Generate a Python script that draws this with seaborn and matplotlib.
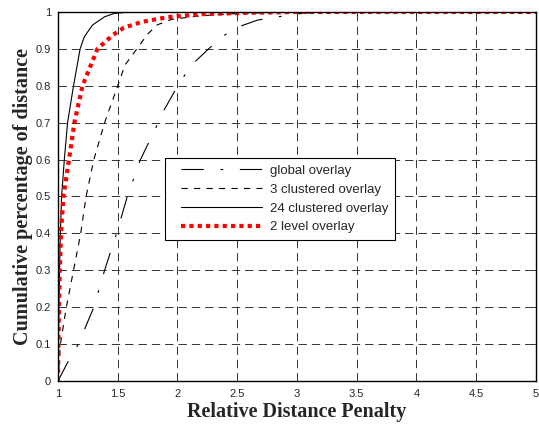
import numpy as np
import pandas as pd
import matplotlib
matplotlib.use("Agg")
import matplotlib.pyplot as plt
from matplotlib.lines import Line2D
from matplotlib.legend_handler import HandlerLine2D
import seaborn as sns

# CDF curves: (relative distance penalty, cumulative fraction)
global_x = [1.0, 1.08, 1.17, 1.30, 1.39, 1.49, 1.58, 1.69, 1.81, 1.88, 2.02, 2.13, 2.26, 2.38, 2.53, 2.67, 3.0, 3.2, 5.0]
global_y = [0.0, 0.05, 0.10, 0.20, 0.30, 0.40, 0.50, 0.60, 0.68, 0.73, 0.81, 0.86, 0.90, 0.935, 0.962, 0.978, 0.995, 1.0, 1.0]

clust3_x = [1.0, 1.02, 1.07, 1.13, 1.19, 1.235, 1.30, 1.39, 1.50, 1.56, 1.66, 1.75, 1.83, 1.95, 2.2, 2.5, 3.0, 5.0]
clust3_y = [0.0, 0.10, 0.20, 0.30, 0.40, 0.50, 0.60, 0.70, 0.80, 0.856, 0.90, 0.94, 0.965, 0.98, 0.99, 0.996, 1.0, 1.0]

clust24_x = [1.0, 1.004, 1.008, 1.013, 1.02, 1.03, 1.053, 1.08, 1.13, 1.185, 1.22, 1.29, 1.39, 1.47, 1.6, 5.0]
clust24_y = [0.0, 0.10, 0.20, 0.30, 0.40, 0.50, 0.60, 0.70, 0.80, 0.90, 0.933, 0.965, 0.987, 0.996, 1.0, 1.0]

level2_x = [1.0, 1.004, 1.008, 1.015, 1.025, 1.045, 1.092, 1.137, 1.205, 1.33, 1.46, 1.55, 1.70, 1.92, 2.2, 2.6, 3.0, 5.0]
level2_y = [0.0, 0.10, 0.20, 0.30, 0.40, 0.50, 0.60, 0.70, 0.80, 0.90, 0.938, 0.957, 0.973, 0.986, 0.994, 0.998, 1.0, 1.0]

labels = ["global overlay", "3 clustered overlay", "24 clustered overlay", "2 level overlay"]
xticks = [1, 1.5, 2, 2.5, 3, 3.5, 4, 4.5, 5]
xticklabels = ["1", "1.5", "2", "2.5", "3", "3.5", "4", "4.5", "5"]
yticks = [0, 0.1, 0.2, 0.3, 0.4, 0.5, 0.6, 0.7, 0.8, 0.9, 1]
yticklabels = ["0", "0.1", "0.2", "0.3", "0.4", "0.5", "0.6", "0.7", "0.8", "0.9", "1"]

sns.set_style("white")
plt.rcParams["font.family"] = ["Liberation Sans", "DejaVu Sans"]
plt.rcParams["lines.scale_dashes"] = False

fig = plt.figure(figsize=(5.39, 4.25), dpi=100)
ax = fig.add_axes([0.1076, 0.1035, 0.8868, 0.8683])

styles = [
    dict(color="black", lw=0.8, linestyle=(0, (16, 12, 2, 12))),
    dict(color="black", lw=0.8, linestyle=(0, (4.5, 4.5))),
    dict(color="black", lw=0.8, linestyle="-"),
    dict(color="red", lw=3.0, linestyle=(0, (3, 3)), dash_capstyle="butt"),
]
series = [(global_x, global_y), (clust3_x, clust3_y), (clust24_x, clust24_y), (level2_x, level2_y)]

for (xs, ys), lab, st in zip(series, labels, styles):
    sns.lineplot(x=xs, y=ys, ax=ax, label=lab, estimator=None, sort=False, **st)

ax.set_xlim(1, 5)
ax.set_ylim(0, 1)
ax.set_xticks(xticks)
ax.set_xticklabels(xticklabels, fontsize=8)
ax.set_yticks(yticks)
ax.set_yticklabels(yticklabels, fontsize=8)
ax.tick_params(direction="in", length=3, top=True, right=True, width=0.6)
ax.tick_params(axis="x", pad=6)
ax.tick_params(axis="y", pad=5)
ax.grid(True, color="#333333", lw=0.7, linestyle=(0, (6, 3.6)))
for sp in ax.spines.values():
    sp.set_color("black")
    sp.set_linewidth(1.0)

ax.set_xlabel("Relative Distance Penalty", fontsize=14.5, fontweight="bold",
              family="Liberation Serif", labelpad=2)
ax.set_ylabel("Cumulative percentage of distance", fontsize=14.5, fontweight="bold",
              family="Liberation Serif", labelpad=2)

leg = ax.legend(loc="upper left", bbox_to_anchor=(0.224, 0.604), borderaxespad=0,
                fontsize=9.5, handlelength=6.85, handletextpad=0.6, labelspacing=0.5,
                borderpad=0.5, fancybox=False, edgecolor="black", framealpha=1,
                handler_map={Line2D: HandlerLine2D(xpad=0.71)})
leg.get_frame().set_linewidth(0.8)

fig.savefig("out.png", dpi=100)
